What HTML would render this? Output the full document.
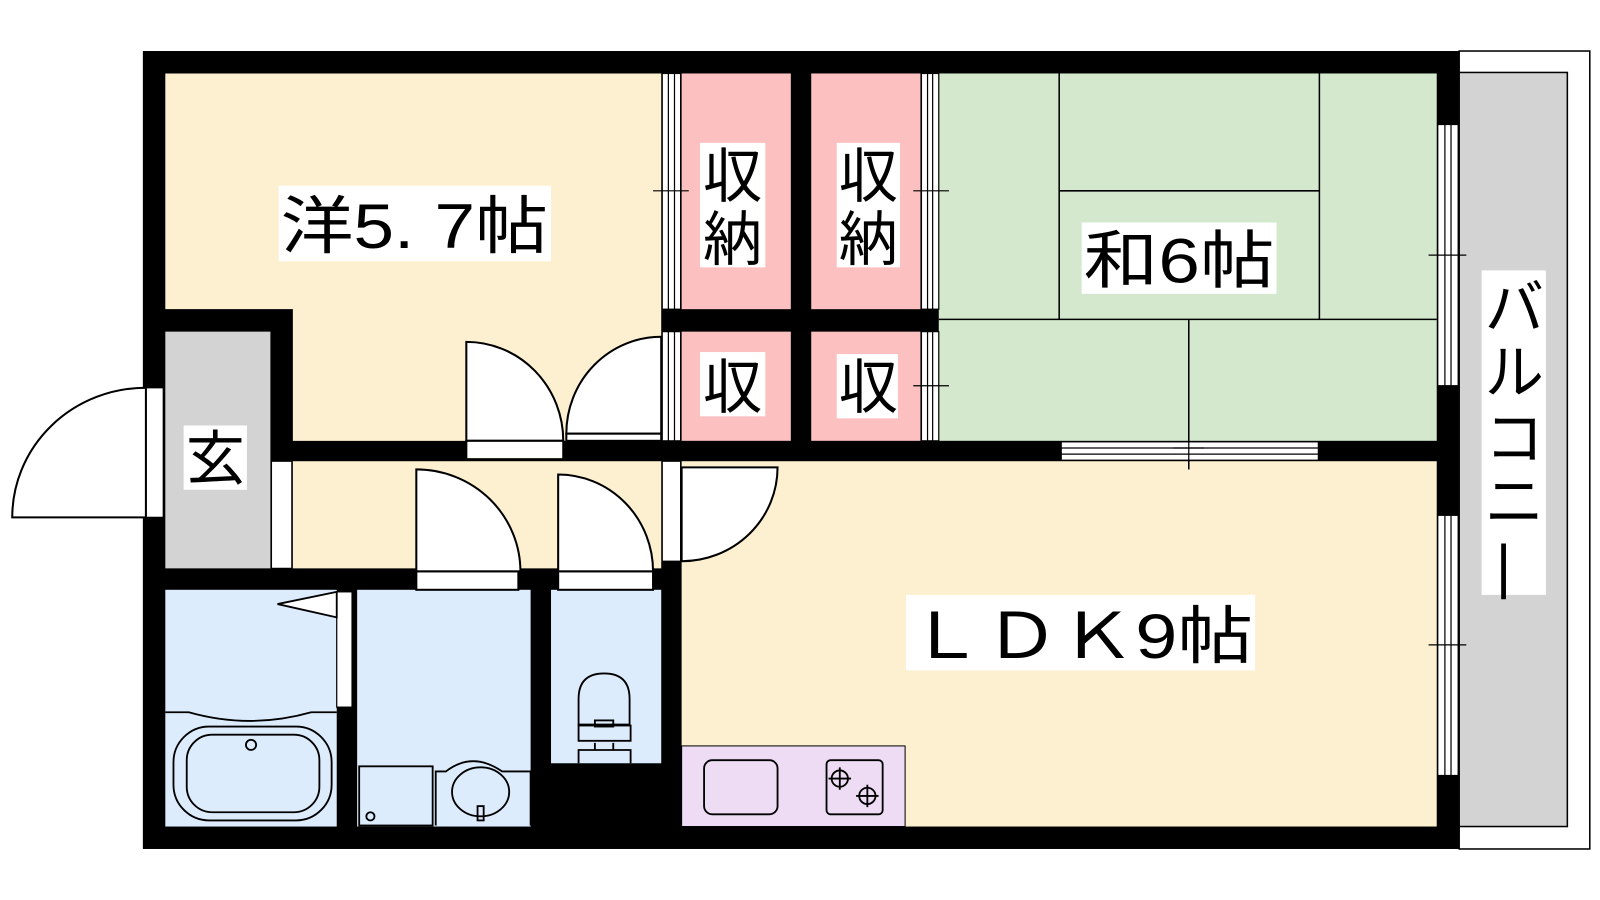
<!DOCTYPE html>
<html><head><meta charset="utf-8"><style>
html,body{margin:0;padding:0;background:#fff;width:1600px;height:900px;overflow:hidden}
svg{display:block}
text{font-family:"Liberation Sans","Noto Sans CJK JP",sans-serif;fill:#000}
</style></head><body>
<svg width="1600" height="900" viewBox="0 0 1568 882" preserveAspectRatio="none" xmlns="http://www.w3.org/2000/svg">
<rect x="1430" y="50" width="128" height="782" fill="#fff" stroke="#000" stroke-width="1.5"/>
<rect x="1430" y="71" width="106" height="739" fill="#d3d3d3" stroke="#000" stroke-width="1.5"/>
<rect x="140" y="50" width="1290" height="782" fill="#000"/>
<path d="M162 72H648V432H287V303H162Z" fill="#fdf0d0"/>
<rect x="162" y="325" width="103" height="232" fill="#d3d3d3"/>
<rect x="287" y="452" width="361" height="105" fill="#fdf0d0"/>
<rect x="668" y="72" width="107" height="231" fill="#fcc0c0"/>
<rect x="795" y="72" width="107" height="231" fill="#fcc0c0"/>
<rect x="668" y="325" width="107" height="107" fill="#fcc0c0"/>
<rect x="795" y="325" width="107" height="107" fill="#fcc0c0"/>
<rect x="920" y="72" width="488" height="360" fill="#d3e8cc"/>
<rect x="668" y="452" width="740" height="358" fill="#fdf0d0"/>
<rect x="162" y="578" width="168" height="232" fill="#dcecfc"/>
<rect x="350" y="578" width="170" height="232" fill="#dcecfc"/>
<rect x="540" y="578" width="108" height="170" fill="#dcecfc"/>
<rect x="668" y="731" width="219" height="79" fill="#eedcf5" stroke="#000" stroke-width="1"/>
<g fill="none" stroke="#000" stroke-width="1.5">
<path d="M1038 72V313M1293 72V313M1038 187H1293M920 313H1408M1165 313V460"/>
</g>
<g fill="#fff" stroke="#000" stroke-width="1.2">
<rect x="649" y="72" width="18" height="231"/><rect x="649" y="325" width="18" height="107"/>
<rect x="903" y="72" width="17" height="231"/><rect x="903" y="325" width="17" height="107"/>
<rect x="1040" y="433" width="252" height="18"/>
<rect x="1409" y="122" width="20" height="256"/><rect x="1409" y="505" width="20" height="255"/>
<rect x="266" y="452" width="20" height="105"/>
<rect x="143" y="380" width="17" height="127"/>
<rect x="330" y="580" width="15" height="113"/>
<rect x="649" y="452" width="18" height="98"/>
</g>
<g fill="none" stroke="#000" stroke-width="1.2">
<path d="M655 72V303M661 72V303M655 325V432M661 325V432M909 72V303M914 72V303M909 325V432M914 325V432"/>
<path d="M1040 439H1292M1040 445H1292M1416 122V378M1422 122V378M1416 505V760M1422 505V760"/>
<path d="M640 187H675M895 187H930M895 378H930M1400 250H1437M1400 632H1437M1165 425V460M1150 439H1180"/>
</g>
<g fill="#fff" stroke="#000" stroke-width="2">
<path d="M457 432V335A95 97 0 0 1 552 432Z"/><rect x="457" y="432" width="95" height="18"/>
<path d="M555 425A93 95 0 0 1 648 330V425Z"/><rect x="555" y="425" width="93" height="7"/>
<path d="M408 560V460A102 100 0 0 1 510 560Z"/><rect x="408" y="560" width="100" height="18"/>
<path d="M547 560V465A93 95 0 0 1 640 560Z"/><rect x="547" y="560" width="93" height="18"/>
<path d="M668 550V458H762A94 92 0 0 1 668 550Z"/>
<path d="M143 507H12A131 127 0 0 1 143 380Z"/>
</g>
<g fill="none" stroke="#000" stroke-width="1.8">
<path d="M272 592L330 580V605Z" fill="#fff"/>
<path d="M162 698H185Q245 715 305 698H330"/>
<rect x="170" y="712" width="155" height="92" rx="35"/>
<rect x="183" y="720" width="130" height="76" rx="25"/>
<circle cx="246" cy="730" r="5"/>
<rect x="352" y="751" width="72" height="58"/>
<circle cx="363" cy="800" r="4"/>
<path d="M427 809V756H437Q463 736 492 756H520V809"/>
<ellipse cx="471" cy="776" rx="28" ry="24"/>
<rect x="468" y="790" width="6" height="14"/>
<path d="M567 710V685Q567 660 592 660Q617 660 617 685V710Z"/>
<rect x="567" y="711" width="51" height="15"/><rect x="583" y="706" width="18" height="6"/>
<path d="M567 748V735H618V748M583 728V735H601V728"/>
<rect x="690" y="745" width="72" height="53" rx="8"/>
<rect x="810" y="745" width="55" height="53" rx="4"/>
<circle cx="823" cy="763" r="8"/><circle cx="850" cy="780" r="8"/>
<path d="M812 763h22M823 752v22M839 780h22M850 769v22"/>
</g>
<g fill="#fff">
<rect x="273" y="182" width="267" height="74"/>
<rect x="1060" y="218" width="191" height="70"/>
<rect x="888" y="583" width="342" height="74"/>
<rect x="180" y="417" width="62" height="63"/>
<rect x="686" y="140" width="64" height="122"/>
<rect x="820" y="140" width="62" height="122"/>
<rect x="686" y="345" width="64" height="63"/>
<rect x="820" y="347" width="60" height="63"/>
<rect x="1452" y="265" width="63" height="318"/>
</g>
<g font-size="62">
<text x="275" y="243" textLength="262" lengthAdjust="spacingAndGlyphs">洋5. 7帖</text>
<text x="1062" y="277" textLength="187" lengthAdjust="spacingAndGlyphs">和6帖</text>
<text x="890" y="645" textLength="338" lengthAdjust="spacingAndGlyphs">ＬＤＫ9帖</text>
<text x="182" y="470" font-size="58">玄</text>
<text x="689" y="193" font-size="58">収</text><text x="689" y="255" font-size="58">納</text>
<text x="822" y="193" font-size="58">収</text><text x="822" y="255" font-size="58">納</text>
<text x="689" y="400" font-size="58">収</text><text x="822" y="400" font-size="58">収</text>
<text x="1455" y="322" font-size="58">バ</text><text x="1455" y="385" font-size="58">ル</text>
<text x="1455" y="450" font-size="58">コ</text><text x="1455" y="512" font-size="58">ニ</text>
<text x="1466" y="575" font-size="58">|</text>
</g>
</svg>
</body></html>
